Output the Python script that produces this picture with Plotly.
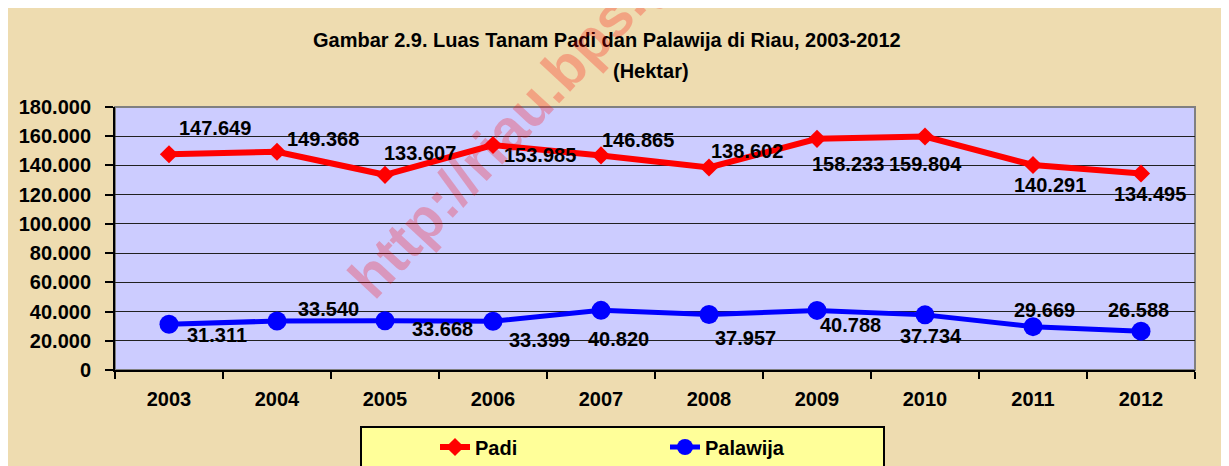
import plotly.graph_objects as go

years = ["2003", "2004", "2005", "2006", "2007", "2008", "2009", "2010", "2011", "2012"]
padi = [147649, 149368, 133607, 153985, 146865, 138602, 158233, 159804, 140291, 134495]
palawija = [31311, 33540, 33668, 33399, 40820, 37957, 40788, 37734, 29669, 26588]

# label offsets in pixels (dx, dy-up) — styling only
padi_off = [(46, 26), (46, 13), (35, 22), (47, -10), (37, 15), (38, 16), (31, -25), (0, -27), (17, -20), (9, -21)]
pal_off = [(48, -11), (51, 12), (57, -8), (46, -19), (17, -29), (36, -23), (33, -15), (6, -21), (11, 17), (-3, 21)]

W, H = 1229, 466
OFF = 8  # page body margin
# plot area in reference-picture pixels
L, R, T, B = 115, 1195, 107, 370
PW, PH = R - L, B - T


def px(x):
    return (x - L) / PW


def py(y):
    return (B - y) / PH


BOLD = "Liberation Sans, Arial, sans-serif"

fig = go.Figure()
fig.add_trace(go.Scatter(
    x=years, y=padi, name="Padi", mode="lines+markers",
    line=dict(color="#FF0000", width=6),
    marker=dict(symbol="diamond", size=14, color="#FF0000"),
))
fig.add_trace(go.Scatter(
    x=years, y=palawija, name="Palawija", mode="lines+markers",
    line=dict(color="#0000FF", width=5),
    marker=dict(symbol="circle", size=19, color="#0000FF"),
))


def fmt(v):
    return f"{v:,}".replace(",", ".")


annotations = []
for series, offs in ((padi, padi_off), (palawija, pal_off)):
    for i, (v, (dx, dy)) in enumerate(zip(series, offs)):
        annotations.append(dict(
            x=i, y=v, xref="x", yref="y", text=fmt(v), showarrow=False,
            xshift=dx, yshift=dy, xanchor="center", yanchor="middle",
            font=dict(family=BOLD, size=20, color="#000000", weight="bold"),
        ))

# title lines
annotations.append(dict(
    x=px(607), y=py(40), xref="paper", yref="paper", showarrow=False,
    text="Gambar 2.9. Luas Tanam Padi dan Palawija di Riau, 2003-2012",
    xanchor="center", yanchor="middle",
    font=dict(family=BOLD, size=20, color="#000000", weight="bold"),
))
annotations.append(dict(
    x=px(651), y=py(71), xref="paper", yref="paper", showarrow=False,
    text="(Hektar)",
    xanchor="center", yanchor="middle",
    font=dict(family=BOLD, size=20, color="#000000", weight="bold"),
))
# watermark
annotations.append(dict(
    x=px(543), y=py(90), xref="paper", yref="paper", showarrow=False,
    text="http://riau.bps.go.id", textangle=-47,
    xanchor="center", yanchor="middle",
    font=dict(family=BOLD, size=58, color="rgba(255,0,0,0.26)", weight="bold"),
))

shapes = [
    # plot area border
    dict(type="rect", xref="paper", yref="paper", x0=0, x1=1, y0=0, y1=1,
         fillcolor="rgba(0,0,0,0)", line=dict(color="#808080", width=2), layer="below"),
    # legend box
    dict(type="rect", xref="paper", yref="paper", x0=px(361), x1=px(884), y0=py(427), y1=py(490),
         fillcolor="#FFFF99", line=dict(color="#000000", width=2), layer="below"),
]

fig.update_layout(
    width=W, height=H,
    margin=dict(l=L - OFF, r=W - (R - OFF), t=T - OFF, b=H - (B - OFF), autoexpand=False),
    paper_bgcolor="#EEDCB0",
    plot_bgcolor="#CCCCFF",
    separators=",.",
    showlegend=True,
    legend=dict(
        orientation="h", xref="paper", yref="paper",
        x=px(435), y=py(447), xanchor="left", yanchor="middle",
        bgcolor="rgba(0,0,0,0)", borderwidth=0,
        font=dict(family=BOLD, size=20, color="#000000", weight="bold"),
        entrywidth=185, entrywidthmode="pixels",
    ),
    xaxis=dict(
        type="category", range=[-0.5, 9.5], tickson="boundaries",
        ticks="outside", ticklen=7, tickwidth=1.5, tickcolor="#000000",
        showline=True, linecolor="#000000", linewidth=2,
        showgrid=False, ticklabelstandoff=10,
        tickfont=dict(family=BOLD, size=20, color="#000000", weight="bold"),
    ),
    yaxis=dict(
        range=[0, 180000], dtick=20000, tickformat=",d",
        ticks="outside", ticklen=8, tickwidth=1.5, tickcolor="#000000",
        showline=True, linecolor="#000000", linewidth=2,
        showgrid=True, gridcolor="#202020", gridwidth=1.2,
        zeroline=False, ticklabelstandoff=10,
        tickfont=dict(family=BOLD, size=20, color="#000000", weight="bold"),
    ),
    annotations=annotations,
    shapes=shapes,
)

fig.write_html("out.html")
